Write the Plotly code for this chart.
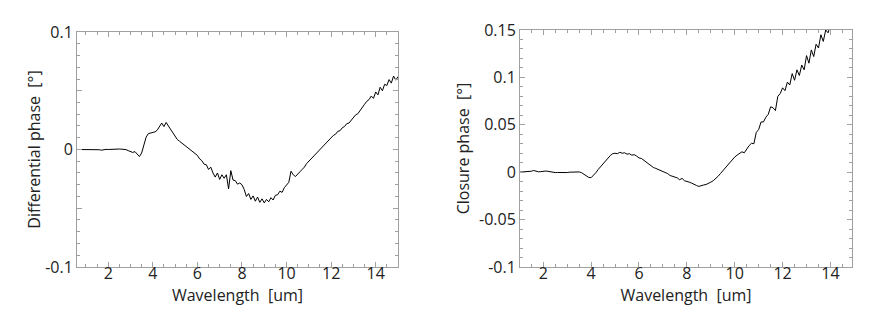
import numpy as np
import plotly.graph_objects as go
from plotly.subplots import make_subplots

# Muestreo en longitud de onda (um)
wl_diff = np.round(np.arange(0.6, 15.01, 0.1), 2)
wl_clos = np.round(np.arange(1.0, 14.01, 0.1), 2)

# Fase diferencial (grados)
diff_phase = [
    0.0000, 0.0000, -0.0003, 0.0000,
    0.0002, -0.0002, 0.0000, 0.0001, -0.0003, 0.0000, -0.0002, -0.0006, 0.0000, 0.0001,
    0.0000, 0.0002, 0.0003, 0.0003, 0.0004, 0.0004, 0.0003, 0.0001, -0.0001, -0.0010,
    -0.0015, -0.0025, -0.0018, -0.0040, -0.0060, -0.0030, 0.0040, 0.0105, 0.0135, 0.0140,
    0.0145, 0.0150, 0.0165, 0.0200, 0.0225, 0.0195, 0.0230, 0.0200, 0.0170, 0.0145,
    0.0115, 0.0085, 0.0070, 0.0055, 0.0040, 0.0025, 0.0010, -0.0005, -0.0015, -0.0030,
    -0.0050, -0.0080, -0.0095, -0.0125, -0.0130, -0.0170, -0.0150, -0.0200, -0.0235, -0.0200,
    -0.0255, -0.0215, -0.0245, -0.0215, -0.0335, -0.0180, -0.0260, -0.0265, -0.0295, -0.0285,
    -0.0300, -0.0340, -0.0400, -0.0375, -0.0425, -0.0395, -0.0440, -0.0405, -0.0450, -0.0420,
    -0.0455, -0.0425, -0.0445, -0.0410, -0.0430, -0.0390, -0.0385, -0.0355, -0.0365, -0.0325,
    -0.0300, -0.0280, -0.0185, -0.0215, -0.0230, -0.0205, -0.0190, -0.0170, -0.0150, -0.0120,
    -0.0100, -0.0080, -0.0060, -0.0040, -0.0020, 0.0000, 0.0020, 0.0040, 0.0060, 0.0080,
    0.0100, 0.0120, 0.0130, 0.0155, 0.0160, 0.0185, 0.0195, 0.0220, 0.0225, 0.0250,
    0.0265, 0.0295, 0.0305, 0.0335, 0.0360, 0.0385, 0.0410, 0.0425, 0.0455, 0.0435,
    0.0490, 0.0465, 0.0530, 0.0500, 0.0555, 0.0545, 0.0595, 0.0565, 0.0625, 0.0590,
    0.0620,
]

# Fase de cierre (grados)
clos_phase = [
    0.0000, 0.0002, -0.0003, 0.0000, 0.0003, 0.0010, 0.0018, 0.0008, 0.0004, 0.0006,
    0.0010, 0.0012, 0.0009, 0.0002, 0.0000, -0.0004, -0.0003, -0.0005, -0.0004, -0.0003,
    -0.0004, 0.0000, 0.0002, 0.0003, 0.0002, 0.0003, -0.0005, -0.0020, -0.0040, -0.0055,
    -0.0058, -0.0035, -0.0005, 0.0030, 0.0060, 0.0095, 0.0125, 0.0150, 0.0175, 0.0195,
    0.0200, 0.0195, 0.0210, 0.0200, 0.0205, 0.0190, 0.0195, 0.0180, 0.0185, 0.0170,
    0.0150, 0.0145, 0.0125, 0.0105, 0.0085, 0.0065, 0.0050, 0.0040, 0.0030, 0.0020,
    0.0010, 0.0000, -0.0015, -0.0035, -0.0045, -0.0050, -0.0060, -0.0080, -0.0065, -0.0090,
    -0.0095, -0.0105, -0.0115, -0.0130, -0.0140, -0.0150, -0.0140, -0.0135, -0.0130, -0.0120,
    -0.0105, -0.0090, -0.0070, -0.0045, -0.0015, 0.0015, 0.0045, 0.0075, 0.0105, 0.0135,
    0.0160, 0.0180, 0.0200, 0.0215, 0.0205, 0.0245, 0.0280, 0.0305, 0.0300, 0.0420,
    0.0450, 0.0530, 0.0530, 0.0580, 0.0610, 0.0690, 0.0680, 0.0650, 0.0800, 0.0830,
    0.0890, 0.0860, 0.0950, 0.0920, 0.1040, 0.0970, 0.1080, 0.1020, 0.1130, 0.1080,
    0.1230, 0.1150, 0.1290, 0.1220, 0.1350, 0.1310, 0.1450, 0.1380, 0.1500, 0.1470,
    0.1560,
]

x_ticks = [2, 4, 6, 8, 10, 12, 14]
y_ticks_diff = [-0.1, -0.05, 0, 0.05, 0.1]
y_text_diff = ["-0.1", "", "0", "", "0.1"]
y_ticks_clos = [-0.1, -0.05, 0, 0.05, 0.1, 0.15]
y_text_clos = ["-0.1", "-0.05", "0", "0.05", "0.1", "0.15"]

fig = make_subplots(rows=1, cols=2)

fig.add_trace(go.Scatter(x=wl_diff, y=diff_phase, mode="lines",
                         line=dict(color="black", width=1)), 1, 1)
fig.add_trace(go.Scatter(x=wl_clos, y=clos_phase, mode="lines",
                         line=dict(color="black", width=1)), 1, 2)

gris = "#a0a0a0"
texto = "#222"
ejes = dict(showline=True, linecolor=gris, linewidth=1, mirror="allticks", automargin=False,
            ticks="inside", tickcolor=gris, ticklen=5, showgrid=False, zeroline=False,
            tickfont=dict(size=16, color=texto))

# la página añade 8 px de margen, se compensa en los dominios
fig.update_xaxes(**ejes, tickvals=x_ticks, ticklabelstandoff=-8,
                 minor=dict(dtick=0.5, ticks="inside", ticklen=3, tickcolor=gris),
                 title=dict(text="Wavelength  [um]", font=dict(size=16, color=texto), standoff=4))
fig.update_xaxes(range=[0.6, 15.0], domain=[0.0785, 0.4437], row=1, col=1)
fig.update_xaxes(range=[1.03, 14.9], domain=[0.5825, 0.9602], row=1, col=2)

fig.update_yaxes(**ejes, minor=dict(dtick=0.01, ticks="inside", ticklen=3, tickcolor=gris))
fig.update_yaxes(range=[-0.1, 0.1], domain=[0.208, 0.9266], tickvals=y_ticks_diff, ticktext=y_text_diff,
                 title=dict(text="Differential phase  [°]", font=dict(size=16, color=texto), standoff=0),
                 row=1, col=1)
fig.update_yaxes(range=[-0.1, 0.15], domain=[0.208, 0.9327], tickvals=y_ticks_clos, ticktext=y_text_clos,
                 title=dict(text="Closure phase  [°]", font=dict(size=16, color=texto), standoff=5),
                 row=1, col=2)

fig.update_layout(width=879, height=327, showlegend=False, plot_bgcolor="white", paper_bgcolor="white",
                  margin=dict(l=0, r=0, t=0, b=0), font=dict(family="Open Sans", color=texto))

fig.write_html("out.html")
